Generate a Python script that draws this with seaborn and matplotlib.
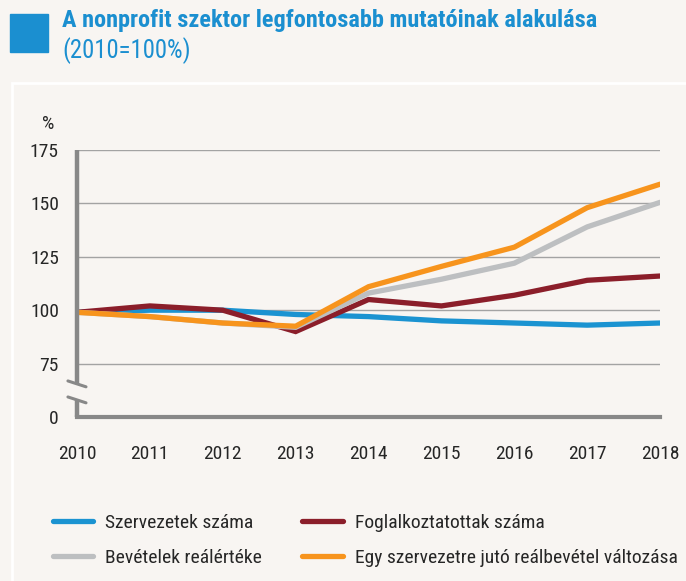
import pandas as pd
import seaborn as sns
import matplotlib.pyplot as plt
from matplotlib import font_manager as fm
from matplotlib.patches import Rectangle
from matplotlib.lines import Line2D

# --- data (2010=100%) ---
years = [2010, 2011, 2012, 2013, 2014, 2015, 2016, 2017, 2018]
szervezetek = [99, 100, 100, 98, 97, 95, 94, 93, 94]
foglalkoztatottak = [99, 102, 100, 90, 105, 102, 107, 114, 116]
bevetelek = [99, 97, 94, 92, 108, 114.5, 122, 139, 150.5]
egy_szervezetre = [99, 97, 94, 92.5, 111, 120.5, 129.5, 148, 159]

series_names = ["Szervezetek száma", "Foglalkoztatottak száma",
                "Bevételek reálértéke", "Egy szervezetre jutó reálbevétel változása"]
colors = ["#1B93D1", "#8B1E2A", "#BDBFC1", "#F7941D"]

ytick_vals = [50, 75, 100, 125, 150, 175]
ytick_labels = ["0", "75", "100", "125", "150", "175"]

df = pd.DataFrame({
    "year": years * 4,
    "value": szervezetek + foglalkoztatottak + bevetelek + egy_szervezetre,
    "series": sum([[n] * len(years) for n in series_names], []),
})

sns.set_style("white")

# pick a narrow font if one is installed
entries = [(f.name, f.stretch) for f in fm.fontManager.ttflist]
narrow = None
for fam in ["Liberation Sans Narrow", "Roboto Condensed", "Open Sans Condensed",
            "Noto Sans", "DejaVu Sans", "Roboto", "Open Sans"]:
    for name, stretch in entries:
        if name == fam and ("Narrow" in name or "Condensed" in name
                            or "condensed" in str(stretch)):
            narrow = fam
            break
    if narrow:
        break
if narrow is None:
    narrow = "Liberation Sans"
plt.rcParams["font.family"] = [narrow, "DejaVu Sans"]
plt.rcParams["font.stretch"] = "condensed"

bg = "#F8F5F2"
blue_title = "#1B8FD0"
fig = plt.figure(figsize=(6.86, 5.81), dpi=100, facecolor=bg)
ax = fig.add_axes([0.1122, 0.2823, 0.8500, 0.4595])
ax.set_facecolor(bg)

# white panel frame
fig.patches.append(Rectangle((12 / 686, -0.01), 1.0, 1 - 83 / 581 + 0.01,
                             transform=fig.transFigure, fill=False,
                             edgecolor="white", linewidth=2))

# title block
fig.patches.append(Rectangle((10 / 686, 1 - 52 / 581), 38 / 686, 38 / 581,
                             transform=fig.transFigure, color=blue_title))
fig.text(62 / 686, 1 - 21 / 581, "A nonprofit szektor legfontosabb mutatóinak alakulása",
         color=blue_title, fontsize=17.5, fontweight="bold", va="center", ha="left")
fig.text(62 / 686, 1 - 51 / 581, "(2010=100%)", color=blue_title,
         fontsize=17.8, va="center", ha="left")

# gridlines
for v in ytick_vals[1:]:
    ax.axhline(v, color="#A3A3A3", linewidth=1, zorder=0)

sns.lineplot(data=df, x="year", y="value", hue="series", palette=colors,
             linewidth=3.8, ax=ax, legend=False, zorder=3)
for line in ax.get_lines():
    line.set_solid_capstyle("round")
    line.set_solid_joinstyle("miter")

ax.set_xlim(2010, 2018)
ax.set_ylim(50, 175)
ax.set_xticks(years)
ax.set_xticklabels([str(y) for y in years])
ax.set_yticks(ytick_vals)
ax.set_yticklabels(ytick_labels)
ax.set_xlabel("")
ax.set_ylabel("")
ax.tick_params(axis="x", length=10, width=3, color="#888888", pad=10,
               labelsize=14, direction="out")
ax.tick_params(axis="y", length=0, pad=13, labelsize=14)

for s in ["top", "right", "left"]:
    ax.spines[s].set_visible(False)
ax.spines["bottom"].set_color("#888888")
ax.spines["bottom"].set_linewidth(3)
ax.spines["bottom"].set_zorder(4)

# left axis with break marks
gray = "#888888"
ax.plot([0, 0], [1, 0.124], transform=ax.transAxes, color=gray, lw=3.2,
        clip_on=False, solid_capstyle="butt", zorder=4)
ax.plot([0, 0], [0.064, 0], transform=ax.transAxes, color=gray, lw=3.2,
        clip_on=False, solid_capstyle="butt", zorder=4)
for yb in [0.124, 0.064]:
    ax.plot([-0.0155, 0.0155], [yb + 0.011, yb - 0.011], transform=ax.transAxes,
            color=gray, lw=2.2, clip_on=False, zorder=4)

fig.text(48 / 686, 1 - 124 / 581, "%", fontsize=14, ha="center", va="center")

# legend, two columns placed separately
handles = [Line2D([], [], color=c, lw=3.8, solid_capstyle="round") for c in colors]
for cols, x0 in [([0, 2], 52.5), ([1, 3], 302)]:
    fig.legend([handles[i] for i in cols], [series_names[i] for i in cols],
               ncol=1, frameon=False, loc="upper left",
               bbox_to_anchor=(x0 / 686, 1 - 514 / 581), fontsize=14,
               handlelength=2.1, handletextpad=0.62, labelspacing=0.88,
               borderpad=0, borderaxespad=0)

fig.savefig("out.png", dpi=100, facecolor=bg)
